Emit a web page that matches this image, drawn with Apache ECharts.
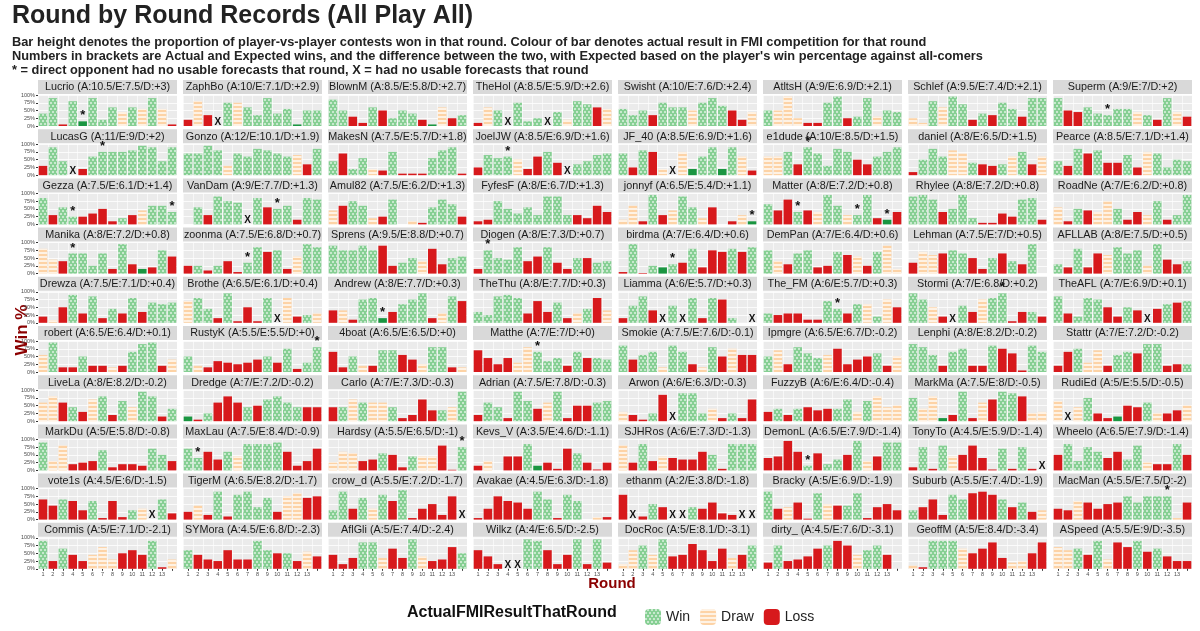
<!DOCTYPE html>
<html><head><meta charset="utf-8">
<script src="https://cdn.jsdelivr.net/npm/echarts@6/dist/echarts.min.js"></script>
<style>html,body{margin:0;padding:0;background:#fff}#c{width:1200px;height:631px}</style>
</head><body><div id="c"></div>
<script>
const rounds = ['1','2','3','4','5','6','7','8','9','10','11','12','13',''];
const yTicks = ['0%','25%','50%','75%','100%'];
const names = ['Lucrio','ZaphBo','BlownM','TheHol','Swisht','AtltsH','Schlef','Superm',
'LucasG','Gonzo','MakesN','JoelJW','JF_40','e1dude','daniel','Pearce',
'Gezza','VanDam','Amul82','FyfesF','jonnyf','Matter','Rhylee','RoadNe',
'Manika','zoonma','Sprens','Diogen','birdma','DemPan','Lehman','AFLLAB',
'Drewza','Brothe','Andrew','TheThu','Liamma','The_FM','Stormi','TheAFL',
'robert','RustyK','4boat','Matthe','Smokie','Ipmgre','Lenphi','Stattr',
'LiveLa','Dredge','Carlo','Adrian','Arwon','FuzzyB','MarkMa','RudiEd',
'MarkDu','MaxLau','Hardsy','Kevs_V','SJHRos','DemonL','TonyTo','Wheelo',
'vote1s','TigerM','crow_d','Avakae','ethanm','Bracky','Suburb','MacMan',
'Commis','SYMora','AflGli','Wilkz','DocRoc','dirty_','GeoffM','ASpeed'];
const records = ['A:10.5/E:7.5/D:+3','A:10/E:7.1/D:+2.9','A:8.5/E:5.8/D:+2.7','A:8.5/E:5.9/D:+2.6','A:10/E:7.6/D:+2.4','A:9/E:6.9/D:+2.1','A:9.5/E:7.4/D:+2.1','A:9/E:7/D:+2',
'A:11/E:9/D:+2','A:12/E:10.1/D:+1.9','A:7.5/E:5.7/D:+1.8','A:8.5/E:6.9/D:+1.6','A:8.5/E:6.9/D:+1.6','A:10/E:8.5/D:+1.5','A:8/E:6.5/D:+1.5','A:8.5/E:7.1/D:+1.4',
'A:7.5/E:6.1/D:+1.4','A:9/E:7.7/D:+1.3','A:7.5/E:6.2/D:+1.3','A:8/E:6.7/D:+1.3','A:6.5/E:5.4/D:+1.1','A:8/E:7.2/D:+0.8','A:8/E:7.2/D:+0.8','A:7/E:6.2/D:+0.8',
'A:8/E:7.2/D:+0.8','A:7.5/E:6.8/D:+0.7','A:9.5/E:8.8/D:+0.7','A:8/E:7.3/D:+0.7','A:7/E:6.4/D:+0.6','A:7/E:6.4/D:+0.6','A:7.5/E:7/D:+0.5','A:8/E:7.5/D:+0.5',
'A:7.5/E:7.1/D:+0.4','A:6.5/E:6.1/D:+0.4','A:8/E:7.7/D:+0.3','A:8/E:7.7/D:+0.3','A:6/E:5.7/D:+0.3','A:6/E:5.7/D:+0.3','A:7/E:6.8/D:+0.2','A:7/E:6.9/D:+0.1',
'A:6.5/E:6.4/D:+0.1','A:5.5/E:5.5/D:+0','A:6.5/E:6.5/D:+0','A:7/E:7/D:+0','A:7.5/E:7.6/D:-0.1','A:6.5/E:6.7/D:-0.2','A:8/E:8.2/D:-0.2','A:7/E:7.2/D:-0.2',
'A:8/E:8.2/D:-0.2','A:7/E:7.2/D:-0.2','A:7/E:7.3/D:-0.3','A:7.5/E:7.8/D:-0.3','A:6/E:6.3/D:-0.3','A:6/E:6.4/D:-0.4','A:7.5/E:8/D:-0.5','A:5/E:5.5/D:-0.5',
'A:5/E:5.8/D:-0.8','A:7.5/E:8.4/D:-0.9','A:5.5/E:6.5/D:-1','A:3.5/E:4.6/D:-1.1','A:6/E:7.3/D:-1.3','A:6.5/E:7.9/D:-1.4','A:4.5/E:5.9/D:-1.4','A:6.5/E:7.9/D:-1.4',
'A:4.5/E:6/D:-1.5','A:6.5/E:8.2/D:-1.7','A:5.5/E:7.2/D:-1.7','A:4.5/E:6.3/D:-1.8','A:2/E:3.8/D:-1.8','A:5/E:6.9/D:-1.9','A:5.5/E:7.4/D:-1.9','A:5.5/E:7.5/D:-2',
'A:5/E:7.1/D:-2.1','A:4.5/E:6.8/D:-2.3','A:5/E:7.4/D:-2.4','A:4/E:6.5/D:-2.5','A:5/E:8.1/D:-3.1','A:4.5/E:7.6/D:-3.1','A:5/E:8.4/D:-3.4','A:5.5/E:9/D:-3.5'];
const winPct = [
[40,90,5,80,15,90,20,60,45,60,55,90,55,5],[20,80,35,0,75,75,60,35,90,40,55,5,50,50],[85,50,30,10,60,50,25,50,40,20,5,60,25,35],[10,60,50,0,75,15,25,0,45,20,80,70,60,55],
[55,35,50,35,75,60,60,50,75,90,65,50,20,45],[50,50,95,25,10,10,75,95,25,30,90,30,50,45],[25,10,80,60,95,70,20,40,35,75,55,30,90,90],[90,50,45,60,40,35,55,55,45,35,20,90,45,30],
[30,90,45,0,20,60,75,75,75,80,95,90,45,90],[70,70,95,80,30,70,60,85,80,70,60,65,35,85],[45,70,20,55,20,15,75,5,5,5,55,80,90,5],[25,65,55,60,50,20,60,75,40,0,35,45,65,70],
[70,25,80,75,20,0,75,20,60,90,20,90,60,15],[60,60,75,35,90,70,30,85,75,50,35,60,75,90],[10,50,85,60,80,70,40,35,30,35,60,75,35,60],[45,30,85,70,80,40,40,65,25,75,70,25,50,45],
[85,30,55,25,25,35,50,10,20,30,45,60,60,40],[null,55,30,90,75,70,0,85,55,50,60,15,85,80],[45,60,75,60,20,25,80,null,10,5,55,80,65,25],[10,15,75,50,35,55,30,90,90,30,30,20,60,40],
[15,60,10,95,30,45,90,55,20,55,null,10,30,10],[65,45,80,40,45,40,95,60,30,30,95,20,15,40],[90,95,80,40,50,95,20,5,5,35,25,80,85,15],[55,10,50,45,40,75,50,15,40,30,75,15,30,95],
[80,45,40,65,65,25,65,15,95,30,15,20,75,55],[25,25,10,25,40,5,35,85,70,75,15,55,95,85],[90,75,75,90,75,90,25,35,50,40,80,30,50,55],[15,75,50,45,85,40,55,85,35,15,50,50,35,40],
[5,95,2,25,20,30,35,80,20,75,70,80,70,85],[75,40,30,65,75,20,25,70,60,55,25,70,90,15],[35,70,60,65,75,65,50,15,50,65,40,30,95,null],[30,20,80,20,65,60,85,65,75,25,95,45,30,40],
[20,8,50,90,30,85,15,45,30,80,35,65,60,65],[70,80,45,15,95,5,50,5,80,0,80,20,25,30],[40,40,10,75,80,15,35,60,75,95,15,30,85,70],[35,25,85,90,80,30,70,35,65,15,30,45,80,40],
[15,55,85,40,0,55,0,80,15,80,75,15,null,0],[30,25,30,30,10,10,70,45,30,60,60,20,75,50],[95,75,50,20,0,55,35,75,80,95,5,35,35,20],[85,30,20,80,75,50,20,50,40,0,45,60,65,70],
[55,95,15,15,50,20,20,15,20,65,90,95,20,40],[50,20,15,35,30,25,30,40,50,30,75,10,30,80],[65,15,50,20,20,70,70,55,40,25,80,80,15,15],[70,45,25,45,30,80,65,35,45,20,65,45,45,40],
[85,40,55,65,15,85,65,25,15,80,50,75,55,55],[50,70,25,80,60,45,55,75,25,40,50,60,20,50],[90,80,55,20,65,75,20,20,85,75,60,5,85,65],[20,65,75,30,70,20,55,65,60,90,90,20,25,25],
[60,80,60,45,30,70,80,20,65,45,95,80,15,40],[15,5,25,60,80,60,45,50,70,80,60,45,45,45],[45,45,70,60,60,60,45,10,20,70,35,35,45,95],[20,60,45,10,95,65,40,60,95,10,50,50,60,65],
[30,20,5,25,85,0,90,90,25,40,10,25,10,70],[30,40,20,40,45,35,40,40,70,30,65,80,45,50],[75,40,80,10,20,95,10,60,70,95,90,80,25,30],[65,0,45,75,25,10,15,50,45,60,25,25,35,50],
[90,30,80,20,25,30,65,10,20,20,15,70,50,30],[70,40,60,35,60,45,85,85,85,90,60,15,30,70],[25,60,55,30,35,55,50,10,45,45,45,80,2,75],[15,30,null,45,45,85,15,25,5,70,55,25,3,25],
[80,25,85,30,45,40,35,35,60,50,5,85,85,85],[40,45,95,60,15,55,20,35,50,95,30,45,90,90],[10,75,5,80,45,50,80,40,3,70,5,75,5,0],[50,85,30,75,60,40,60,35,80,25,20,20,85,50],
[65,45,65,60,30,60,5,60,8,30,35,0,65,20],[25,45,15,90,10,80,90,40,70,25,75,85,70,75],[30,90,35,70,35,80,60,95,5,35,50,15,75,0],[5,35,75,60,55,35,90,65,5,80,60,null,8,8],
[80,0,10,50,40,0,0,40,35,55,20,15,0,0],[90,35,40,55,3,85,50,45,45,85,5,40,50,30],[30,40,65,15,80,65,85,90,80,65,40,55,25,30],[35,30,60,55,35,50,55,75,55,75,75,75,5,55],
[90,25,65,45,25,45,70,30,50,60,45,90,5,30],[60,45,30,25,60,30,30,90,60,50,50,25,55,40],[45,15,35,85,85,35,65,35,95,40,25,30,70,50],[60,40,15,0,0,95,90,60,15,45,95,15,95,20],
[15,60,75,45,95,40,45,80,60,25,65,35,45,75],[20,75,25,30,40,65,75,90,75,45,60,75,45,null],[10,5,90,90,90,65,50,65,85,35,20,25,50,85],[70,60,65,45,90,30,85,70,90,55,65,40,25,25]];
// W=win, G=win (solid), D=draw, L=loss, X=no usable forecast, N=no bar
const results = ['WWLWGWWWDWDWDL','LDLXWDWWWWWGWW','WWLLWLWWWLGDLW','LDWXWWWXWDWWLD','WWWLWWWDWWWLLD','WDDDLLWWLWWDWW','DDWDWWLWLWWLWW','WLLWWWWWDWLWDL',
'LWWXLWWWWWWWWW','WWWWDWWWWWWDLW','WLWWDLWLLLWWWL','LWWWDLLWLXWWWW','WLWLDXDGWWGWDL','DDWLWWWWWLLWWW','LWWWDDWLLWDWLD','WLWLWLLWLDWWWW',
'WLWWLLLLWLDWWW','NWLWWWXWLWWLWW','DLWWDLWNDLWWWL','LLWWWWWWWWLLLL','DDLWLDWWDLNLDG','WLLWLDWWDWWLGL','WWWLWWWLLLLWWL','DLWLDDWLLDWLWW',
'DDLWWWWLWLGLWL','LWLWLLWWLWLDWW','WWWWWLLWWDLLWW','LWWWWLLWLLWLWW','LWLWGWLWLLLWLW','WDLWWLLWLDLWDD','LDDLWWLLWLWLWN','WLWLLDWWWDWLLW',
'LDLWLWLWLWLWWW','DWWLWLLLWXDLWD','LDLWWGLWWWLDWL','WWWWWLLLWLDWLD','LWWLXWXWLWLWNX','WLLLLLWWLWDWDL','WWDLXWLDWWLLWL','WLWWWLLWLXLWLW',
'DWLLWLLDLWWWLD','WDLLLLLLWLWLWW','LLWDLWWLLDWWLD','LLLLDDWWWLWLWW','WLWWDWWLDWLDLL','WDLWWWDLLLLWLD','WWWLWWLLWLLLWW','LLWDDLWWLWWLLW',
'DDLWLDWLWDWWLW','GLWLLLWLWWWWLL','LWDWDDWLLLLWDW','LWWLWWLDWLLLWW','DLLWLXWWWDLWLL','LWLWLLLWWDWDDD','WDDGLWLDLWWLDD','DXDWLLGLLWDLLD',
'WDDLLLWLLLLWWL','WWLLWDWWWWLLLL','DDDLLWLLWDDLLW','LDNLLWGLLLWLLL','DLWLDLLLLWLWWW','LLLLWLWWLWDLWW','LWLWDLLLLWLWLX','LWWWWLLWWDLLWL',
'LLWLLWLLLWDXWL','LDLWLWWWWLDDLL','WWLWDWLWLLLLLX','LLLLLLWWLWWNDL','LXLWLXXWLLLLXX','WLDLLWDLWWLLLL','WLLLWWLLLWLWLD','LLDLLLLWWWWWDL',
'WLWLLDDDLLLWLD','WLLLLLLWWLWLDL','LLLWWDLLWDLLLW','LLLXXWWLLLWLWL','DDWDWLLLLLLDLW','LWLLLLWLLDWWLN','DLWWWDLLLLDDLL','DDWLWDLLWLWLLL'];
// rounds marked * (direct opponent)
const stars = {Lucrio:[5],Superm:[6],LucasG:[7],JoelJW:[4],e1dude:[5],Gezza:[4,14],VanDam:[10],jonnyf:[14],Matter:[4,10,13],
Manika:[4],zoonma:[7],Diogen:[2],birdma:[6],Andrew:[6],The_FM:[8],Stormi:[10],RustyK:[14],Matthe:[7],MaxLau:[2],Hardsy:[14],DemonL:[5],MacMan:[12]};

const COLS=8, left0=38, colStep=145, panelW=139, top0=80, rowStep=49.2, stripH=14, plotH=31;
const WIN='#86cf93', DRAW='#fdd3a6', LOSS='#d7191c', SOLID='#1a9641';
const winDecal={symbol:'rect',symbolSize:1,color:'rgba(255,255,255,0.55)',dashArrayX:[[2,2],[0,2,2,0]],dashArrayY:[2,1]};
const drawDecal={symbol:'rect',symbolSize:1,color:'rgba(255,255,255,0.7)',dashArrayX:[1,0],dashArrayY:[2,2]};
function styleFor(c){
  if(c==='W') return {color:WIN,decal:winDecal};
  if(c==='D') return {color:DRAW,decal:drawDecal};
  if(c==='G') return {color:SOLID};
  return {color:LOSS};
}
const FONT='"Liberation Sans", Arial, sans-serif';
const grids=[],xAxes=[],yAxes=[],series=[],graphics=[];
names.forEach((nm,i)=>{
  const col=i%COLS,row=Math.floor(i/COLS);
  const x=left0+col*colStep, y=top0+row*rowStep;
  graphics.push({type:'rect',shape:{x:x,y:y,width:panelW,height:stripH},style:{fill:'#d9d9d9'},silent:true});
  graphics.push({type:'text',x:x+panelW/2,y:y+stripH/2+0.5,style:{text:nm+' ('+records[i]+')',fill:'#1a1a1a',font:'10.8px '+FONT,align:'center',verticalAlign:'middle'}});
  grids.push({left:x,top:y+stripH+1,width:panelW,height:plotH,show:true,backgroundColor:'#ebebeb',borderWidth:0});
  const bottom=row===Math.floor((names.length-1)/COLS);
  xAxes.push({type:'category',gridIndex:i,data:rounds,axisLine:{show:false},
    axisTick:{show:bottom,length:2,lineStyle:{color:'#333'},alignWithLabel:true},
    axisLabel:{show:bottom,fontSize:5.5,color:'#4d4d4d',margin:3,interval:0},
    splitLine:{show:true,interval:0,lineStyle:{color:'#fff',width:0.6}}});
  yAxes.push({type:'value',gridIndex:i,min:0,max:100,interval:25,
    axisLabel:{show:col===0,fontSize:5.5,color:'#4d4d4d',margin:3,formatter:v=>yTicks[v/25]},
    axisTick:{show:col===0,length:2,lineStyle:{color:'#333'}},axisLine:{show:false},
    splitLine:{lineStyle:{color:'#fff',width:0.8}}});
  const st=stars[nm]||[];
  const data=winPct[i].map((v,k)=>{
    const c=results[i][k];
    if(c==='N') return null;
    const item={value:v,itemStyle:styleFor(c)};
    if(c==='X') item.label={show:true,formatter:'X',position:'top',distance:-1,fontSize:10,fontWeight:'bold',color:'#111'};
    else if(st.includes(k+1)) item.label={show:true,formatter:'*',position:'top',distance:-1,fontSize:13,fontWeight:'bold',color:'#111'};
    return item;
  });
  series.push({type:'bar',xAxisIndex:i,yAxisIndex:i,data:data,barCategoryGap:'14%',silent:true,animation:false});
});
// hidden grid for legend-only series
const hid=names.length;
grids.push({left:-100,top:-100,width:10,height:10,show:false});
xAxes.push({type:'category',gridIndex:hid,show:false,data:['a']});
yAxes.push({type:'value',gridIndex:hid,show:false});
[['Win',styleFor('W')],['Draw',styleFor('D')],['Loss',styleFor('L')]].forEach(([n,s])=>{
  series.push({type:'bar',name:n,xAxisIndex:hid,yAxisIndex:hid,data:[],itemStyle:s});
});
graphics.push({type:'text',x:22,y:330,rotation:Math.PI/2,style:{text:'Win %',fill:'#8b0000',font:'bold 17px '+FONT,align:'center',verticalAlign:'middle'}});
graphics.push({type:'text',x:612,y:584,style:{text:'Round',fill:'#8b0000',font:'bold 15px '+FONT,align:'center',verticalAlign:'middle'}});
graphics.push({type:'text',x:407,y:613,style:{text:'ActualFMIResultThatRound',fill:'#111',font:'bold 16px '+FONT,verticalAlign:'middle'}});
graphics.push({type:'text',x:12,y:4,style:{text:'Round by Round Records (All Play All)',fill:'#222',font:'bold 25px '+FONT}});
graphics.push({type:'text',x:12,y:35,style:{text:"Bar height denotes the proportion of player-vs-player contests won in that round. Colour of bar denotes actual result in FMI competition for that round\nNumbers in brackets are Actual and Expected wins, and the difference between the two, with Expected based on the player's win percentage against all-comers\n* = direct opponent had no usable forecasts that round, X = had no usable forecasts that round",fill:'#222',font:'bold 12.8px '+FONT,lineHeight:14}});
const chart=echarts.init(document.getElementById('c'),null,{renderer:'canvas'});
chart.setOption({animation:false,grid:grids,xAxis:xAxes,yAxis:yAxes,series:series,graphic:graphics,
  legend:{data:['Win','Draw','Loss'],left:640,top:604,itemWidth:16,itemHeight:16,itemGap:10,textStyle:{fontSize:14,color:'#222'}}});
</script></body></html>
